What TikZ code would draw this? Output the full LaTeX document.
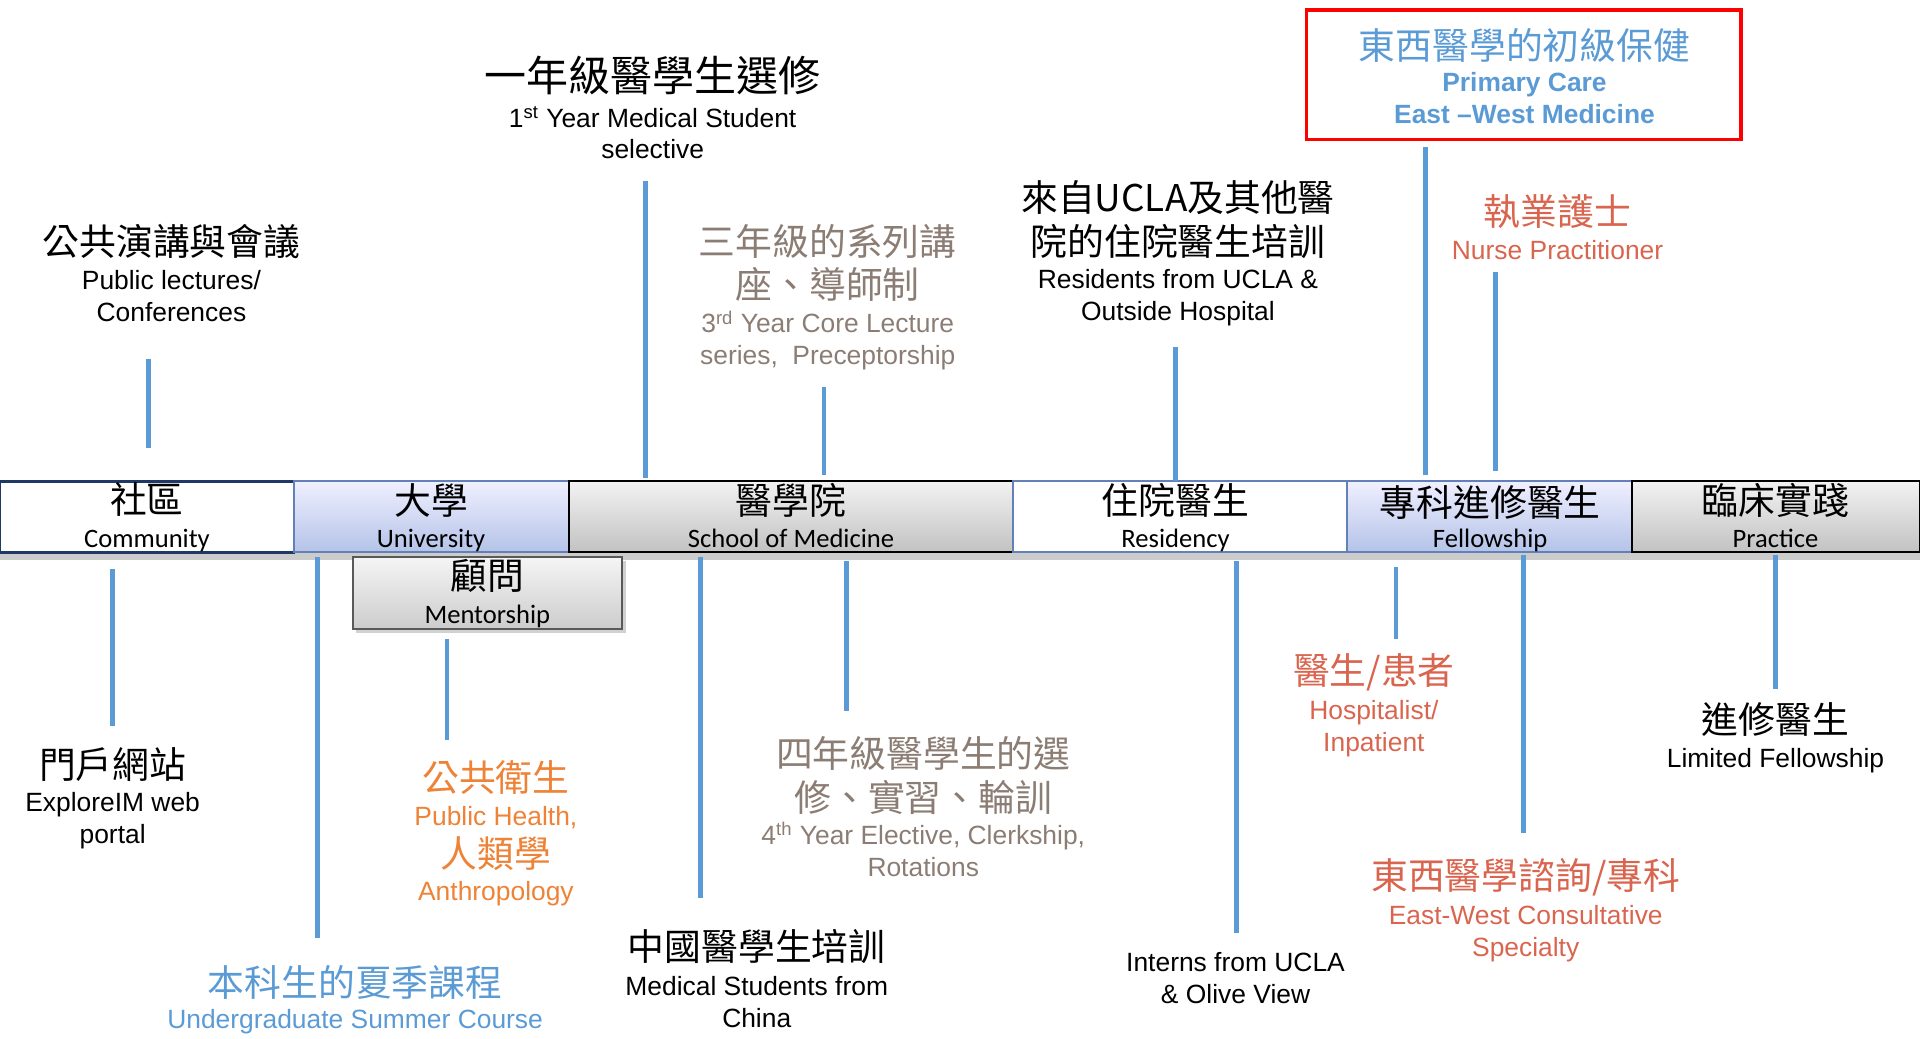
\documentclass[tikz,border=0pt]{standalone}
\usepackage{fontspec}
\setmainfont{Liberation Sans}
\newfontfamily\cjk{Noto Sans CJK TC}
\newfontfamily\calib{Carlito}
\definecolor{lblue}{HTML}{5B9BD5}
\definecolor{lred}{HTML}{D9654F}
\definecolor{lorange}{HTML}{EE8236}
\definecolor{lbrown}{HTML}{8C7D74}
\definecolor{navy}{HTML}{1F3864}
\definecolor{bandblue}{HTML}{6480B8}
\definecolor{redbox}{HTML}{FF0000}
\tikzset{
 zh/.style={font=\cjk\fontsize{18.4}{20}\selectfont, inner sep=0pt},
 zhbig/.style={font=\cjk\fontsize{21}{23}\selectfont, inner sep=0pt},
 en/.style={font=\fontsize{13.2}{15}\selectfont, inner sep=0pt, text height=9.5pt, text depth=0pt},
 enb/.style={en, font=\bfseries\fontsize{13.2}{15}\selectfont},
 bandtxt/.style={font=\calib\fontsize{13.3}{15}\selectfont, inner sep=0pt, text height=8.6pt, text depth=0pt},
 conn/.style={draw=lblue, line width=2.4pt},
 bandbox/.style={minimum height=58*0.6122pt, inner sep=0pt},
}
\begin{document}
\begin{tikzpicture}[x=0.6122pt,y=-0.6122pt]
\useasboundingbox (0,0) rectangle (1568,848);

% ---- band ----
\fill[black!20] (0,451) rectangle (1568,457);
\node[bandbox, minimum width=240*0.6122pt, draw=navy, line width=1.3pt, fill=white] (comm) at (120,422) {};
\node[bandbox, minimum width=225*0.6122pt, draw=bandblue, line width=0.8pt, top color=blue!6!white, bottom color={rgb,255:red,180;green,195;blue,232}] (univ) at (352.5,422) {};
\node[bandbox, minimum width=362*0.6122pt, draw=black, line width=1pt, top color=black!5, bottom color=black!24] (som) at (646,422) {};
\node[bandbox, minimum width=273*0.6122pt, draw=bandblue, line width=0.9pt, fill=white] (resid) at (963.5,422) {};
\node[bandbox, minimum width=233*0.6122pt, draw=bandblue, line width=0.9pt, top color=blue!6!white, bottom color={rgb,255:red,180;green,195;blue,232}] (fell) at (1216.5,422) {};
\node[bandbox, minimum width=235*0.6122pt, draw=black, line width=1pt, top color=black!5, bottom color=black!24] (prac) at (1450.5,422) {};

\node[zh] (commz) at (120,408) {社區};
\node[bandtxt] (comme) at (120,440) {Community};
\node[zh] (univz) at (352,409) {大學};
\node[bandtxt] (unive) at (352,440) {University};
\node[zh] (somz) at (646,409) {醫學院};
\node[bandtxt] (some) at (646,440) {School of Medicine};
\node[zh] (residz) at (960,409) {住院醫生};
\node[bandtxt] (reside) at (960,440) {Residency};
\node[zh] (fellz) at (1217,410) {專科進修醫生};
\node[bandtxt] (felle) at (1217,440) {Fellowship};
\node[zh] (pracz) at (1450,409) {臨床實踐};
\node[bandtxt] (prace) at (1450,440) {Practice};

% ---- mentorship ----
\fill[black!18] (291,458) rectangle (511,517);
\node[minimum width=220*0.6122pt, minimum height=59*0.6122pt, inner sep=0pt, draw=black!65, line width=1pt, top color=black!4, bottom color=black!20] (ment) at (398,484.5) {};
\node[zh] (mentz) at (398,470) {顧問};
\node[bandtxt] (mente) at (398,502) {Mentorship};

% ---- red box ----
\node[minimum width=355*0.6122pt, minimum height=106*0.6122pt, inner sep=0pt, draw=redbox, line width=1.9pt] (pcbox) at (1244.5,61) {};
\node[zh, text=lblue] (pcz) at (1245,37) {東西醫學的初級保健};
\node[enb, text=lblue] (pce1) at (1245,67) {Primary Care};
\node[enb, text=lblue] (pce2) at (1245,93) {East –West Medicine};

% ---- labels above ----
\node[zh] (az) at (140,197) {公共演講與會議};
\node[en] (ae1) at (140,229) {Public lectures/};
\node[en] (ae2) at (140,255) {Conferences};

\node[zhbig] (bz) at (533,62) {一年級醫學生選修};
\node[en] (be1) at (533,96) {1\textsuperscript{st} Year Medical Student};
\node[en] (be2) at (533,122) {selective};

\node[zh, text=lbrown] (cz1) at (676,197) {三年級的系列講};
\node[zh, text=lbrown] (cz2) at (676,232) {座、導師制};
\node[en, text=lbrown] (ce1) at (676,264) {3\textsuperscript{rd} Year Core Lecture};
\node[en, text=lbrown] (ce2) at (676,290) {series,\hspace{0.55em}Preceptorship};

\node[zh] (dz1) at (962,161) {來自UCLA及其他醫};
\node[zh] (dz2) at (962,197) {院的住院醫生培訓};
\node[en] (de1) at (962,228) {Residents from UCLA \&};
\node[en] (de2) at (962,254) {Outside Hospital};

\node[zh, text=lred] (fz) at (1272,173) {執業護士};
\node[en, text=lred] (fe) at (1272,204) {Nurse Practitioner};

% ---- labels below ----
\node[zh] (gz) at (92,624) {門戶網站};
\node[en] (ge1) at (92,655) {ExploreIM web};
\node[en] (ge2) at (92,681) {portal};

\node[zh, text=lblue] (hz) at (290,802) {本科生的夏季課程};
\node[en, text=lblue] (he) at (290,832) {Undergraduate Summer Course};

\node[zh, text=lorange] (jz1) at (405,635) {公共衛生};
\node[en, text=lorange] (je1) at (405,666) {Public Health,};
\node[zh, text=lorange] (jz2) at (405,697) {人類學};
\node[en, text=lorange] (je2) at (405,728) {Anthropology};

\node[zh] (kz) at (618,773) {中國醫學生培訓};
\node[en] (ke1) at (618,805) {Medical Students from};
\node[en] (ke2) at (618,831) {China};

\node[zh, text=lbrown] (lz1) at (754,615) {四年級醫學生的選};
\node[zh, text=lbrown] (lz2) at (754,651) {修、實習、輪訓};
\node[en, text=lbrown] (le1) at (754,682) {4\textsuperscript{th} Year Elective, Clerkship,};
\node[en, text=lbrown] (le2) at (754,708) {Rotations};

\node[en] (me1) at (1009,786) {Interns from UCLA};
\node[en] (me2) at (1009,812) {\& Olive View};

\node[zh, text=lred] (nz) at (1122,549) {醫生/患者};
\node[en, text=lred] (ne1) at (1122,580) {Hospitalist/};
\node[en, text=lred] (ne2) at (1122,606) {Inpatient};

\node[zh, text=lred] (oz) at (1246,716) {東西醫學諮詢/專科};
\node[en, text=lred] (oe1) at (1246,747) {East-West Consultative};
\node[en, text=lred] (oe2) at (1246,773) {Specialty};

\node[zh] (pz) at (1450,588) {進修醫生};
\node[en] (pe) at (1450,619) {Limited Fellowship};

% ---- connector end points ----
\coordinate (a1) at (121,293);  \coordinate (a2) at (121,366);
\coordinate (b1) at (527,148);  \coordinate (b2) at (527,390);
\coordinate (c1) at (673,316);  \coordinate (c2) at (673,388);
\coordinate (d1) at (960,283);  \coordinate (d2) at (960,393);
\coordinate (e1) at (1164,120); \coordinate (e2) at (1164,388);
\coordinate (f1) at (1221,222); \coordinate (f2) at (1221,385);
\coordinate (g1) at (92,465);   \coordinate (g2) at (92,593);
\coordinate (h1) at (259,455);  \coordinate (h2) at (259,766);
\coordinate (i1) at (365,522);  \coordinate (i2) at (365,604);
\coordinate (k1) at (572,455);  \coordinate (k2) at (572,733);
\coordinate (l1) at (691,458);  \coordinate (l2) at (691,581);
\coordinate (m1) at (1010,458); \coordinate (m2) at (1010,762);
\coordinate (n1) at (1140,463); \coordinate (n2) at (1140,522);
\coordinate (o1) at (1244,453); \coordinate (o2) at (1244,680);
\coordinate (p1) at (1450,453); \coordinate (p2) at (1450,563);

\foreach \s in {a,b,c,d,e,f,g,h,i,k,l,m,n,o,p}
  \draw[conn] (\s1) -- (\s2);
\end{tikzpicture}
\end{document}
